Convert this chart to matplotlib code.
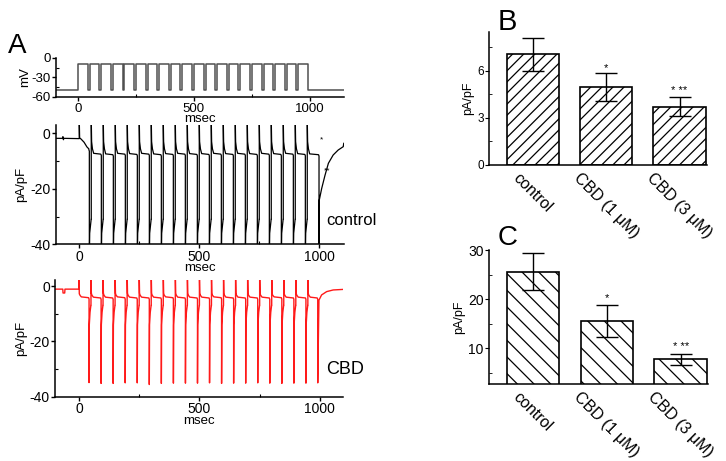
import numpy as np
import matplotlib.pyplot as plt
from matplotlib.ticker import MultipleLocator

plt.rcParams['font.family'] = ['Liberation Sans', 'DejaVu Sans']
plt.rcParams['axes.unicode_minus'] = False
plt.rcParams['hatch.linewidth'] = 0.9
plt.rcParams['axes.linewidth'] = 1.1

# ---- voltage protocol (ms, mV)
pulse_on = [0, 50, 100, 150, 200, 250, 300, 350, 400, 450,
            500, 550, 600, 650, 700, 750, 800, 850, 900, 950]
step_ms = 42
hold_mv = -50
test_mv = -10
v_start, v_stop = -95, 1147

# ---- control current trace (pA/pF), key points
ctrl_pre_t = [-97, -70, -68, -66, -64, 0]
ctrl_pre_v = [-1.8, -1.8, -1.2, -2.3, -1.8, -1.9]
ctrl_first_t = [1.5, 8, 20, 32, 40]
ctrl_first_v = [-1.6, -2.1, -3.2, -4.9, -5.6]
ctrl_post_t = [1.5, 5]
ctrl_post_v = [-3.0, -5.6]
ctrl_steady = [-5.6, -7.2, -7.4, -7.2, -7.3, -7.2, -7.4, -7.3, -7.2, -7.3,
               -7.3, -7.2, -7.3, -7.2, -7.3, -7.2, -7.3, -7.2, -7.3, -7.4]
ctrl_peak = [-46, -46, -46, -46, -46, -46, -46, -46, -46, -46,
             -46, -46, -46, -46, -46, -46, -46, -46, -46, -46]
ctrl_rec_t = [43.5, 49.5]
ctrl_rec_v = [-36, -31]
ctrl_last_off = 999
ctrl_tail_t = [1000, 1010, 1024, 1038, 1058, 1079, 1100, 1102]
ctrl_tail_v = [-24.1, -19.9, -15.1, -10.8, -7.8, -6.0, -4.8, -3.6]

# ---- CBD current trace (pA/pF)
cbd_pre_t = [-98, -67, -66, -59, -58, 0]
cbd_pre_v = [-1.1, -1.1, -2.5, -2.5, -1.1, -1.1]
cbd_first_t = [1.5, 5]
cbd_first_v = [-2.8, -3.4]
cbd_post_t = [1.5, 4]
cbd_post_v = [-2.6, -3.3]
cbd_steady = [-3.9, -4.0, -4.0, -3.9, -4.0, -4.0, -4.0, -3.9, -4.0, -4.0,
              -4.0, -3.9, -4.0, -4.0, -4.0, -4.0, -3.9, -4.0, -4.0, -4.0]
cbd_peak = [-34.9, -35.2, -35.2, -35.0, -35.0, -35.6, -35.2, -35.1, -35.1, -35.1,
            -35.0, -35.2, -35.1, -35.1, -35.0, -35.1, -35.2, -35.1, -35.1, -35.0]
cbd_rec_t = [43, 46, 49.5]
cbd_rec_v = [-14, -9.5, -7]
cbd_last_off = 991
cbd_tail_t = [996, 1007, 1028, 1055, 1096]
cbd_tail_v = [-5.1, -3.2, -2.0, -1.4, -1.2]

# ---- bar charts
groups = ['control', 'CBD (1 \u03bcM)', 'CBD (3 \u03bcM)']
peak_b = [7.05, 4.97, 3.72]
err_b = [1.05, 0.87, 0.6]
stars_b = ['', '*', '* **']
tail_c = [25.7, 15.6, 7.7]
err_c = [3.8, 3.3, 1.2]
stars_c = ['', '*', '* **']


def voltage_trace():
    t = [v_start, 0]
    v = [hold_mv, hold_mv]
    for t0 in pulse_on:
        t += [t0, t0 + step_ms, t0 + step_ms]
        v += [test_mv, test_mv, hold_mv]
    t.append(v_stop)
    v.append(hold_mv)
    # step shape: vertical edges
    tt, vv = [t[0]], [v[0]]
    for i in range(1, len(t)):
        tt += [t[i], t[i]]
        vv += [vv[-1], v[i]]
    return tt, vv


def current_trace(pre_t, pre_v, first_t, first_v, post_t, post_v, steady, peak,
                  rec_t, rec_v, last_off, tail_t, tail_v, top=5):
    t = list(pre_t)
    v = list(pre_v)
    n = len(pulse_on)
    for k, t0 in enumerate(pulse_on):
        t += [t0, t0]
        v += [v[-1], top]
        if k == 0:
            t += [t0 + x for x in first_t]
            v += list(first_v)
            if first_t[-1] < 10:
                t += [t0 + 10]
                v += [steady[k]]
        else:
            t += [t0 + x for x in post_t] + [t0 + 10]
            v += list(post_v) + [steady[k]]
        off = t0 + step_ms if k < n - 1 else last_off
        t += [off - 2, off, off]
        v += [steady[k] - 0.3, steady[k] - 0.8, peak[k]]
        if k < n - 1:
            t += [t0 + x for x in rec_t]
            v += list(rec_v)
    t += tail_t
    v += tail_v
    return np.array(t), np.array(v)


def style_trace_axes(ax):
    for s in ['top', 'right']:
        ax.spines[s].set_visible(False)
    ax.tick_params(which='major', direction='out', length=3, width=1, labelsize=10, pad=1)
    ax.tick_params(which='minor', direction='in', length=2, width=0.8)
    ax.xaxis.set_major_locator(MultipleLocator(500))
    ax.xaxis.set_minor_locator(MultipleLocator(250))


fig = plt.figure(figsize=(7.26, 4.61), dpi=100)

# ---- A: voltage protocol
ax_v = fig.add_axes([0.0771, 0.7896, 0.3967, 0.0846])
tv, vv = voltage_trace()
ax_v.plot(tv, vv, color='#505050', lw=1.1)
ax_v.set_xlim(v_start, v_stop)
ax_v.set_ylim(-60, 0)
ax_v.set_yticks([0, -30, -60])
ax_v.yaxis.set_minor_locator(MultipleLocator(15))
style_trace_axes(ax_v)
ax_v.tick_params(labelsize=9.5)
ax_v.set_ylabel('mV', fontsize=9.5, labelpad=0)
ax_v.set_xlabel('msec', fontsize=9.5, labelpad=-1)

# ---- A: control current
ax_c = fig.add_axes([0.0771, 0.4700, 0.3967, 0.2588])
tc, ic = current_trace(ctrl_pre_t, ctrl_pre_v, ctrl_first_t, ctrl_first_v,
                       ctrl_post_t, ctrl_post_v, ctrl_steady, ctrl_peak,
                       ctrl_rec_t, ctrl_rec_v, ctrl_last_off, ctrl_tail_t, ctrl_tail_v)
ax_c.plot(tc, ic, color='black', lw=0.9)
ax_c.set_xlim(-97, 1103)
ax_c.set_ylim(-40, 3)
ax_c.set_yticks([0, -20, -40])
ax_c.yaxis.set_minor_locator(MultipleLocator(10))
style_trace_axes(ax_c)
ax_c.set_ylabel('pA/pF', fontsize=9.5, labelpad=2)
ax_c.set_xlabel('msec', fontsize=9.5, labelpad=-1)
ax_c.text(1010, -2.4, '*', fontsize=6, ha='center', va='center')
ax_c.text(1033, -13.5, '**', fontsize=6, ha='center', va='center')
ax_c.text(1030, -33, 'control', fontsize=12, ha='left', va='baseline', clip_on=False)

# ---- A: CBD current
ax_d = fig.add_axes([0.0762, 0.1395, 0.3963, 0.2531])
td, idd = current_trace(cbd_pre_t, cbd_pre_v, cbd_first_t, cbd_first_v,
                        cbd_post_t, cbd_post_v, cbd_steady, cbd_peak,
                        cbd_rec_t, cbd_rec_v, cbd_last_off, cbd_tail_t, cbd_tail_v)
ax_d.plot(td, idd, color='#ff1a1a', lw=1.0)
ax_d.set_xlim(-98, 1096)
ax_d.set_ylim(-40, 2.2)
ax_d.set_yticks([0, -20, -40])
ax_d.yaxis.set_minor_locator(MultipleLocator(10))
style_trace_axes(ax_d)
ax_d.set_ylabel('pA/pF', fontsize=9.5, labelpad=2)
ax_d.set_xlabel('msec', fontsize=9.5, labelpad=-1)
ax_d.text(1025, -31.9, 'CBD', fontsize=13, ha='left', va='baseline', clip_on=False)

fig.text(0.011, 0.885, 'A', fontsize=20, ha='left', va='baseline')


def bar_panel(ax, vals, errs, stars, hatch, ylim, yticks, minor, star_gap, tick_fs):
    x = np.arange(len(groups))
    ax.bar(x, vals, width=0.71, color='white', edgecolor='black', linewidth=1.2,
           hatch=hatch, zorder=2)
    ax.errorbar(x, vals, yerr=errs, fmt='none', ecolor='black', elinewidth=1,
                capsize=8, capthick=1, zorder=3)
    for xi, v, e, s in zip(x, vals, errs, stars):
        if s:
            ax.text(xi, v + e + star_gap, s, fontsize=8, ha='center', va='bottom')
    ax.set_xlim(-0.59, 2.37)
    ax.set_ylim(*ylim)
    ax.set_yticks(yticks)
    ax.yaxis.set_minor_locator(MultipleLocator(minor))
    ax.set_xticks(x)
    ax.set_xticklabels(groups, rotation=-45, ha='center', va='top', fontsize=11.5)
    for s in ['top', 'right']:
        ax.spines[s].set_visible(False)
    ax.tick_params(axis='x', length=0, pad=4)
    ax.tick_params(axis='y', which='major', direction='out', length=3, labelsize=tick_fs, pad=1)
    ax.tick_params(axis='y', which='minor', direction='in', length=2)
    ax.set_ylabel('pA/pF', fontsize=9, labelpad=2)


# ---- B: peak current
ax_b = fig.add_axes([0.674, 0.6421, 0.2994, 0.2892])
bar_panel(ax_b, peak_b, err_b, stars_b, '///', (0, 8.5), [0, 3, 6], 1.5, 0.05, 8.5)
fig.text(0.685, 0.936, 'B', fontsize=21, ha='left', va='baseline')

# ---- C: tail current
ax_cc = fig.add_axes([0.674, 0.167, 0.3012, 0.2907])
bar_panel(ax_cc, tail_c, err_c, stars_c, '\\\\', (2.68, 30.1), [10, 20, 30], 5, 0.3, 10)
fig.text(0.685, 0.469, 'C', fontsize=20, ha='left', va='baseline')

fig.savefig('out.png', dpi=100)
